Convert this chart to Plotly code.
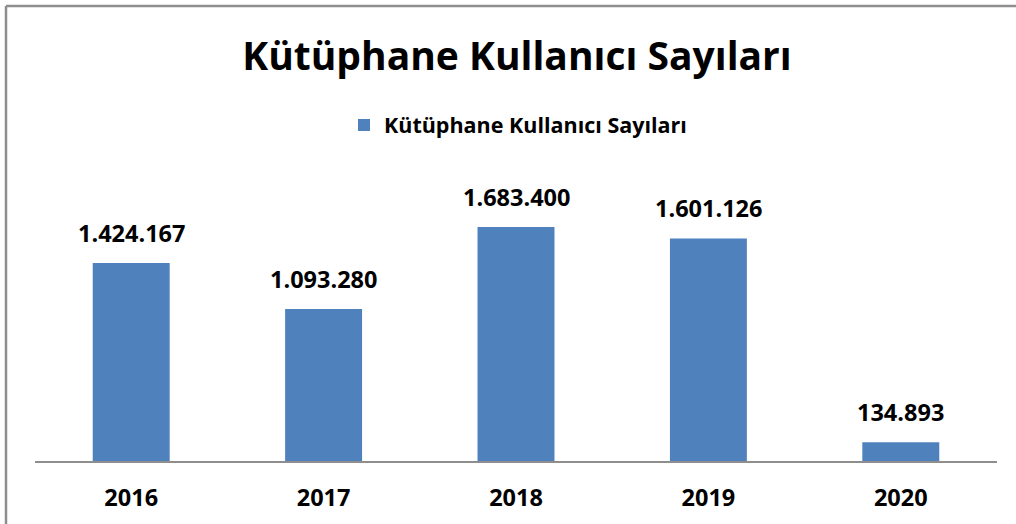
import plotly.graph_objects as go

years = ["2016", "2017", "2018", "2019", "2020"]
users = [1424167, 1093280, 1683400, 1601126, 134893]
labels = ["1.424.167", "1.093.280", "1.683.400", "1.601.126", "134.893"]
series_name = "Kütüphane Kullanıcı Sayıları"
title_text = "Kütüphane Kullanıcı Sayıları"

FONT = "Open Sans"
BAR = "#4F81BD"
GRAY = "#8E8E8E"

W, H = 1016, 524
ML, MR, MT, MB = 35, 19, 183, 63
pw = W - ML - MR
ph = H - MT - MB

def px_x(p):
    return (p - ML) / pw

def px_y(p):
    return (H - MB - p) / ph

fig = go.Figure()
fig.add_trace(go.Bar(
    x=years, y=users, name="<b>%s</b>" % series_name,
    marker=dict(color=BAR, line=dict(width=0)),
    showlegend=True,
))

for i, (y, t) in enumerate(zip(users, labels)):
    fig.add_annotation(x=i, y=y, text="<b>%s</b>" % t, showarrow=False,
                       xref="x", yref="y",
                       yanchor="bottom", yshift=12,
                       font=dict(family=FONT, size=23.5, color="black"))

# outer chart border (top and left visible)
fig.add_shape(type="line", xref="paper", yref="paper",
              x0=px_x(6), x1=px_x(1030), y0=px_y(6), y1=px_y(6),
              line=dict(color=GRAY, width=2.5))
fig.add_shape(type="line", xref="paper", yref="paper",
              x0=px_x(6), x1=px_x(6), y0=px_y(6), y1=px_y(540),
              line=dict(color=GRAY, width=2.5))

fig.update_layout(
    width=W, height=H,
    margin=dict(l=ML, r=MR, t=MT, b=MB, autoexpand=False),
    paper_bgcolor="white", plot_bgcolor="white",
    bargap=0.6,
    title=dict(text="<b>%s</b>" % title_text, x=px_x(517), xref="paper",
               y=1 - 56 / H, yanchor="middle", xanchor="center",
               font=dict(family=FONT, size=39, color="black")),
    legend=dict(orientation="h", x=px_x(518), xanchor="center",
                y=px_y(125), yanchor="middle",
                font=dict(family=FONT, size=21.5, color="black"),
                itemwidth=30, bgcolor="rgba(0,0,0,0)"),
    xaxis=dict(type="category", range=[-0.5, len(years) - 0.5],
               showline=True, linecolor=GRAY, linewidth=1.5,
               showgrid=False, ticks="", ticklabelstandoff=15,
               tickfont=dict(family=FONT, size=23.5, color="black"),
               tickprefix="<b>", ticksuffix="</b>"),
    yaxis=dict(range=[0, 2000000], visible=False, showgrid=False),
)

fig.write_html("out.html", config={"displayModeBar": False},
               post_script="document.body.style.margin='0';")
